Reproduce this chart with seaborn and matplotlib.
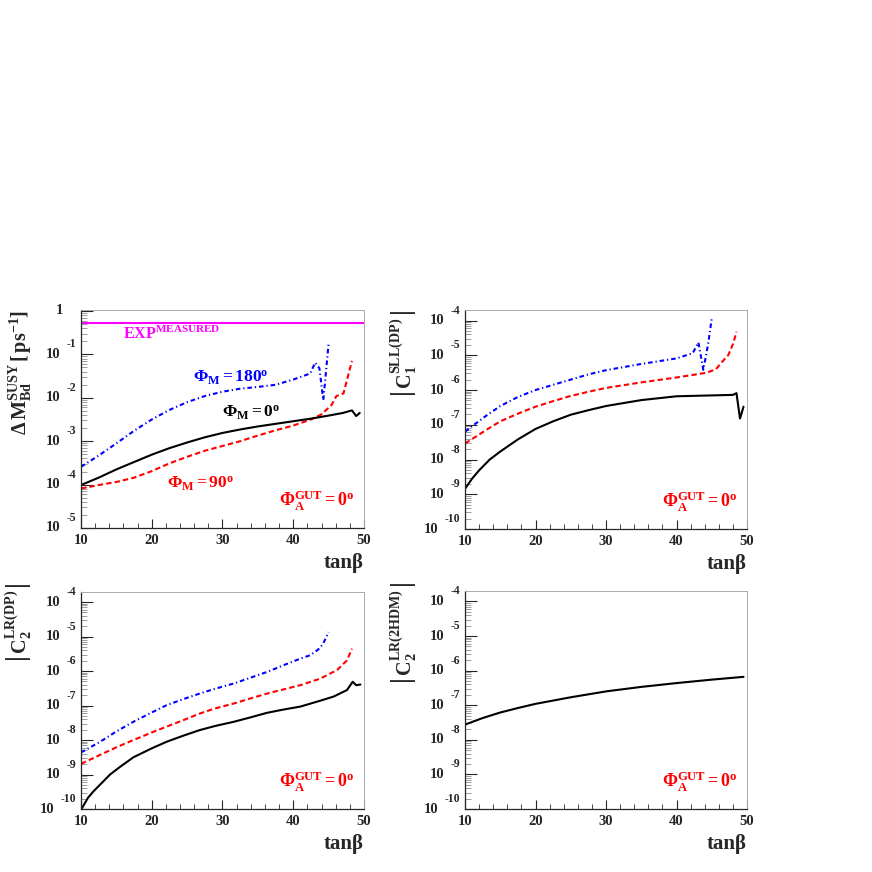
import matplotlib
matplotlib.use("Agg")
import matplotlib.pyplot as plt
from matplotlib import transforms
from matplotlib.ticker import LogLocator, MultipleLocator, NullFormatter
import numpy as np
import seaborn as sns

# Curves, stored as log10 of the plotted quantity.
# Panel 1: Delta M_Bd (SUSY)
TANB_DM_PHI0 = [10, 12.5, 15, 17.5, 20, 22.5, 25, 27.5, 30, 32.5, 35, 37.5, 40, 42.5, 45, 47, 48.3, 48.9, 49.4]
LOG_DM_PHI0 = [-4.01, -3.84, -3.65, -3.48, -3.31, -3.16, -3.03, -2.91, -2.81, -2.73, -2.66, -2.60, -2.54,
               -2.48, -2.41, -2.35, -2.29, -2.42, -2.35]
TANB_DM_PHI90 = [10, 12.5, 15, 17.5, 20, 22.5, 25, 27.5, 30, 32.5, 35, 37.5, 40, 42.5, 44, 45.4, 46.1, 47.1, 47.6, 48.3]
LOG_DM_PHI90 = [-4.09, -4.01, -3.94, -3.84, -3.69, -3.51, -3.36, -3.22, -3.11, -3.00, -2.87, -2.75, -2.64,
                -2.50, -2.38, -2.17, -1.96, -1.90, -1.59, -1.15]
TANB_DM_PHI180 = [10, 12.5, 15, 17.5, 20, 22.5, 25, 27.5, 30, 32.5, 35, 37.5, 40, 42.4, 43.1, 43.7, 44.25, 44.6, 45.0]
LOG_DM_PHI180 = [-3.59, -3.33, -3.05, -2.76, -2.50, -2.28, -2.10, -1.96, -1.86, -1.79, -1.75, -1.70, -1.58,
                 -1.44, -1.19, -1.32, -2.06, -1.45, -0.75]
EXP_TANB = [10, 50]
EXP_DM = [0.53, 0.53]

# Panel 2: |C1 SLL(DP)|
TANB_C1_PHI0 = [10, 11, 12, 13.5, 15, 17.5, 20, 22.5, 25, 27.5, 30, 35, 40, 44, 48, 48.5, 49, 49.5]
LOG_C1_PHI0 = [-8.84, -8.55, -8.31, -8.00, -7.77, -7.42, -7.12, -6.90, -6.71, -6.58, -6.46, -6.29, -6.18,
               -6.16, -6.14, -6.09, -6.82, -6.48]
TANB_C1_PHI90 = [10, 13, 15, 17.5, 20, 22.5, 25, 27.5, 30, 35, 40, 44.3, 45.6, 46.2, 47.35, 48.06, 48.5]
LOG_C1_PHI90 = [-7.54, -7.15, -6.90, -6.68, -6.48, -6.32, -6.17, -6.05, -5.94, -5.78, -5.64, -5.50, -5.40,
                -5.25, -4.99, -4.65, -4.32]
TANB_C1_PHI180 = [10, 11, 13, 15, 17.5, 20, 22.5, 25, 27.5, 30, 35, 40, 42.3, 43.1, 43.8, 44.5, 45.0]
LOG_C1_PHI180 = [-7.20, -7.04, -6.74, -6.46, -6.20, -6.00, -5.85, -5.70, -5.55, -5.43, -5.25, -5.09, -4.94,
                 -4.63, -5.42, -4.65, -3.93]

# Panel 3: |C2 LR(DP)|
TANB_C2_PHI0 = [10, 11, 11.75, 13, 14.1, 15.5, 17.4, 20, 22.1, 24.5, 26.8, 29, 31.6, 34, 36.3, 38.5, 41,
                43.8, 45.7, 47.6, 48.4, 48.9, 49.5]
LOG_C2_PHI0 = [-10.02, -9.67, -9.49, -9.23, -9.00, -8.78, -8.50, -8.24, -8.05, -7.87, -7.71, -7.59, -7.47,
               -7.34, -7.21, -7.12, -7.03, -6.86, -6.74, -6.55, -6.31, -6.41, -6.39]
TANB_C2_PHI90 = [10, 12.7, 15, 17.4, 20, 22.1, 24.5, 26.8, 29, 31.6, 34, 36.5, 41, 43.8, 46.2, 47.6, 48.3]
LOG_C2_PHI90 = [-8.69, -8.43, -8.21, -8.00, -7.78, -7.61, -7.42, -7.23, -7.08, -6.94, -6.79, -6.64, -6.41,
                -6.22, -5.97, -5.69, -5.35]
TANB_C2_PHI180 = [10, 12.7, 15, 17.4, 20, 22.1, 24.5, 26.8, 29, 31.6, 34, 36.5, 39, 41, 42.4, 43.5, 44.2, 45]
LOG_C2_PHI180 = [-8.36, -8.05, -7.75, -7.47, -7.20, -6.99, -6.81, -6.65, -6.51, -6.36, -6.19, -6.01, -5.80,
                 -5.64, -5.54, -5.38, -5.22, -4.87]

# Panel 4: |C2 LR(2HDM)|
TANB_2HDM = [10, 12.5, 15, 17.5, 20, 25, 30, 35, 40, 45, 49.5]
LOG_2HDM = [-7.56, -7.37, -7.21, -7.08, -6.96, -6.77, -6.60, -6.47, -6.36, -6.26, -6.18]

DECADES_TOP_LEFT = [0, -1, -2, -3, -4, -5]
DECADES_OTHER = [-4, -5, -6, -7, -8, -9, -10]

BLACK, RED, BLUE, MAGENTA = "#000000", "#ff0000", "#0000ff", "#ff00ff"
SOLID = "-"
DASHED = (0, (2.6, 1.5))
DASHDOT = (0, (2.2, 1.4, 0.6, 1.4))

sns.set_theme(style="ticks")
plt.rcParams["font.family"] = ["Liberation Serif", "DejaVu Serif"]
plt.rcParams.update({
    "font.weight": "bold",
    "mathtext.fontset": "custom",
    "mathtext.rm": "Liberation Serif:bold",
    "mathtext.bf": "Liberation Serif:bold",
    "mathtext.it": "Liberation Serif:italic:bold",
    "mathtext.default": "rm",
    "axes.linewidth": 0.9,
})

DPI = 100
fig = plt.figure(figsize=(8.72, 8.72), dpi=DPI)
fig.patch.set_facecolor("white")
renderer = fig.canvas.get_renderer()


def px(dx, dy):
    return transforms.ScaledTranslation(dx / DPI, dy / DPI, fig.dpi_scale_trans)


def style_axes(ax, ylim, decades, ylabel, label_top):
    ax.set_yscale("log")
    ax.set_xlim(10, 50)
    ax.set_ylim(*ylim)
    ax.xaxis.set_major_locator(MultipleLocator(10))
    ax.xaxis.set_minor_locator(MultipleLocator(2))
    ax.yaxis.set_major_locator(LogLocator(base=10, numticks=30))
    ax.yaxis.set_minor_locator(LogLocator(base=10, subs=np.arange(2, 10), numticks=30))
    ax.yaxis.set_major_formatter(NullFormatter())
    ax.yaxis.set_minor_formatter(NullFormatter())
    ax.tick_params(axis="x", which="major", direction="in", length=6.7, width=0.8,
                   top=False, labelsize=10.5, pad=4)
    ax.tick_params(axis="x", which="minor", direction="in", length=3.6, width=0.6, top=False)
    ax.tick_params(axis="y", which="major", direction="in", length=8.6, width=0.8, right=False)
    ax.tick_params(axis="y", which="minor", direction="in", length=4.3, width=0.5,
                   right=False, color="#777777")
    for side in ("top", "right"):
        ax.spines[side].set_color("#aaaaaa")
        ax.spines[side].set_linewidth(0.7)
    ax.set_facecolor("white")

    # ROOT-like "10" + raised exponent labels
    base = transforms.blended_transform_factory(ax.transAxes, ax.transData)
    for e in decades:
        val = 10.0 ** e
        if e == 0:
            ax.text(0, val, "1", transform=base + px(-18, 0), ha="right", va="center",
                    fontsize=10.5, fontweight="bold")
            continue
        t = ax.text(0, val, f"{e}", transform=base + px(-5, 10), ha="right", va="center",
                    fontsize=8.5, fontweight="bold")
        w = t.get_window_extent(renderer).width
        ax.text(0, val, "10", transform=base + px(-(5 + w + 6), 0), ha="right", va="center",
                fontsize=10.5, fontweight="bold")

    ax.set_xlabel("tanβ", fontsize=15, fontweight="bold", loc="right")
    ax.xaxis.set_label_coords(1.0, -0.115)
    ax.set_ylabel(ylabel, fontsize=14.5, loc="top")
    ax.yaxis.set_label_coords(-0.165, label_top)
    ax.text(0.70, 0.10, r"$\Phi_{A}^{GUT} = 0^{o}$", transform=ax.transAxes, color=RED,
            fontsize=13, ha="left", va="baseline")


def curve(ax, x, logy, color, ls):
    sns.lineplot(x=x, y=10.0 ** np.asarray(logy), ax=ax, color=color, linestyle=ls,
                 linewidth=1.5, estimator=None, sort=False)


positions = {
    "dm": [0.0929, 0.3945, 0.3245, 0.25],
    "c1": [0.5333, 0.3933, 0.3234, 0.2511],
    "c2": [0.0929, 0.0722, 0.3245, 0.2492],
    "hdm": [0.5333, 0.0722, 0.3234, 0.25],
}
TOP_YLIM = (1e-5, 10 ** 0.023)
OTHER_YLIM = (1e-10, 10 ** -3.7)

# Panel 1
ax1 = fig.add_axes(positions["dm"])
ax1.set_yscale("log")
sns.lineplot(x=EXP_TANB, y=EXP_DM, ax=ax1, color=MAGENTA, linewidth=1.5, estimator=None, sort=False)
curve(ax1, TANB_DM_PHI180, LOG_DM_PHI180, BLUE, DASHDOT)
curve(ax1, TANB_DM_PHI90, LOG_DM_PHI90, RED, DASHED)
curve(ax1, TANB_DM_PHI0, LOG_DM_PHI0, BLACK, SOLID)
style_axes(ax1, TOP_YLIM, DECADES_TOP_LEFT,
           r"$\Delta\,M_{Bd}^{SUSY}\,[\,ps^{-1}]$", 1.0)
ax1.text(15.98, 10 ** -0.65, r"$EXP^{MEASURED}$", color=MAGENTA, fontsize=11.5,
         ha="left", va="baseline")
ax1.text(25.9, 10 ** -1.63, r"$\Phi_{M} = 180^{o}$", color=BLUE, fontsize=12.5,
         ha="left", va="baseline")
ax1.text(29.9, 10 ** -2.44, r"$\Phi_{M} = 0^{o}$", color=BLACK, fontsize=12.5,
         ha="left", va="baseline")
ax1.text(22.2, 10 ** -4.09, r"$\Phi_{M} = 90^{o}$", color=RED, fontsize=12.5,
         ha="left", va="baseline")

# Panel 2
ax2 = fig.add_axes(positions["c1"])
ax2.set_yscale("log")
curve(ax2, TANB_C1_PHI180, LOG_C1_PHI180, BLUE, DASHDOT)
curve(ax2, TANB_C1_PHI90, LOG_C1_PHI90, RED, DASHED)
curve(ax2, TANB_C1_PHI0, LOG_C1_PHI0, BLACK, SOLID)
style_axes(ax2, OTHER_YLIM, DECADES_OTHER, r"$\left|\,C_{1}^{SLL(DP)}\,\right|$", 1.0)

# Panel 3
ax3 = fig.add_axes(positions["c2"])
ax3.set_yscale("log")
curve(ax3, TANB_C2_PHI180, LOG_C2_PHI180, BLUE, DASHDOT)
curve(ax3, TANB_C2_PHI90, LOG_C2_PHI90, RED, DASHED)
curve(ax3, TANB_C2_PHI0, LOG_C2_PHI0, BLACK, SOLID)
style_axes(ax3, OTHER_YLIM, DECADES_OTHER, r"$\left|\,C_{2}^{LR(DP)}\,\right|$", 1.045)

# Panel 4
ax4 = fig.add_axes(positions["hdm"])
ax4.set_yscale("log")
curve(ax4, TANB_2HDM, LOG_2HDM, BLACK, SOLID)
style_axes(ax4, OTHER_YLIM, DECADES_OTHER, r"$\left|\,C_{2}^{LR(2HDM)}\,\right|$", 1.045)

fig.savefig("out.png", dpi=DPI, facecolor="white")
